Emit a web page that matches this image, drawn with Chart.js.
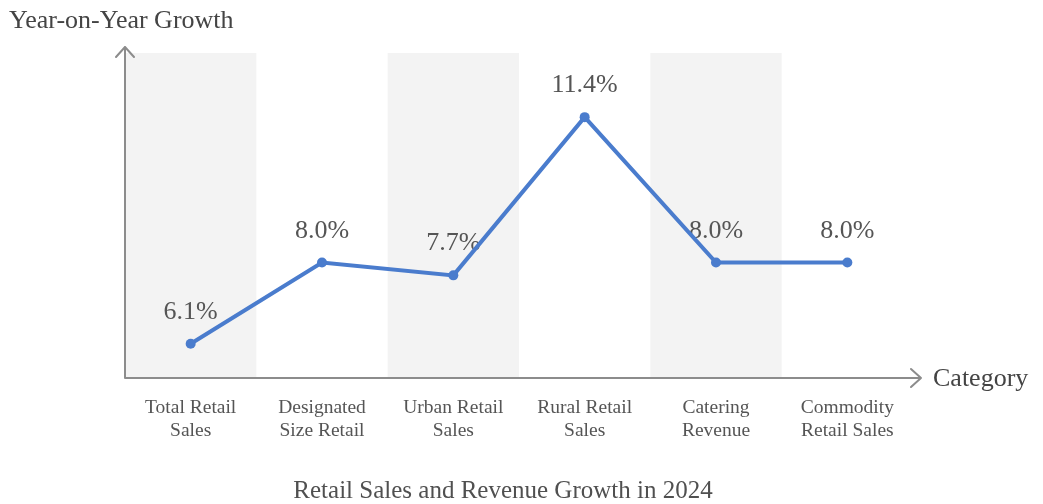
<!DOCTYPE html>
<html>
<head>
<meta charset="utf-8">
<script src="https://cdn.jsdelivr.net/npm/chart.js@4"></script>
<style>
  html, body { margin: 0; padding: 0; background: #ffffff; }
  #wrap { width: 1043px; height: 504px; }
</style>
</head>
<body>
<div id="wrap"><canvas id="c" width="1043" height="504"></canvas></div>
<script>
// Category names (two lines each) and growth rates in percent
const categories = [
  ['Total Retail', 'Sales'],
  ['Designated', 'Size Retail'],
  ['Urban Retail', 'Sales'],
  ['Rural Retail', 'Sales'],
  ['Catering', 'Revenue'],
  ['Commodity', 'Retail Sales']
];
const growth = [6.1, 8.0, 7.7, 11.4, 8.0, 8.0];

const chartTitle = 'Retail Sales and Revenue Growth in 2024';
const yAxisName = 'Year-on-Year Growth';
const xAxisName = 'Category';

const SERIF = '"Liberation Serif", "Times New Roman", serif';
const LINE_BLUE = '#4a7ccd';
const AXIS_GREY = '#8c8c8c';
const TEXT_GREY = '#555555';

// Alternating shaded column behind every other category
const bandPlugin = {
  id: 'bands',
  beforeDatasetsDraw(chart) {
    const { ctx, chartArea, scales } = chart;
    const x = scales.x;
    const step = x.getPixelForValue(1) - x.getPixelForValue(0);
    ctx.save();
    ctx.fillStyle = '#f3f3f3';
    categories.forEach((_, i) => {
      if (i % 2 === 0) {
        const cx = x.getPixelForValue(i);
        ctx.fillRect(cx - step / 2, chartArea.top, step, chartArea.bottom - chartArea.top);
      }
    });
    ctx.restore();
  }
};

// Percent labels above each point, drawn under the line
const valueLabelPlugin = {
  id: 'valueLabels',
  beforeDatasetsDraw(chart) {
    const { ctx } = chart;
    const meta = chart.getDatasetMeta(0);
    ctx.save();
    ctx.font = '26px ' + SERIF;
    ctx.fillStyle = TEXT_GREY;
    ctx.textAlign = 'center';
    ctx.textBaseline = 'alphabetic';
    meta.data.forEach((pt, i) => {
      ctx.fillText(growth[i].toFixed(1) + '%', pt.x, pt.y - 25);
    });
    ctx.restore();
  }
};

// Axis lines with open arrow heads, axis names and the bottom title
const axesPlugin = {
  id: 'arrowAxes',
  afterDatasetsDraw(chart) {
    const { ctx, chartArea } = chart;
    const left = chartArea.left, bottom = chartArea.bottom;
    const yTip = chartArea.top - 6;
    const xTip = chartArea.right + 8;
    ctx.save();
    ctx.strokeStyle = AXIS_GREY;
    ctx.lineWidth = 2;
    ctx.lineCap = 'round';
    ctx.lineJoin = 'round';
    ctx.beginPath();
    ctx.moveTo(left, bottom);
    ctx.lineTo(left, yTip);
    ctx.moveTo(left - 9, yTip + 10);
    ctx.lineTo(left, yTip);
    ctx.lineTo(left + 9, yTip + 10);
    ctx.moveTo(left, bottom);
    ctx.lineTo(xTip, bottom);
    ctx.moveTo(xTip - 10, bottom - 9);
    ctx.lineTo(xTip, bottom);
    ctx.lineTo(xTip - 10, bottom + 9);
    ctx.stroke();

    ctx.fillStyle = '#444444';
    ctx.font = '26px ' + SERIF;
    ctx.textBaseline = 'alphabetic';
    ctx.textAlign = 'left';
    ctx.fillText(yAxisName, 9, 28);
    ctx.fillText(xAxisName, xTip + 12, bottom + 8);

    ctx.font = '25px ' + SERIF;
    ctx.textAlign = 'center';
    ctx.fillStyle = '#505050';
    ctx.fillText(chartTitle, 503, 498);
    ctx.restore();
  }
};

new Chart(document.getElementById('c'), {
  type: 'line',
  data: {
    labels: categories,
    datasets: [{
      data: growth,
      borderColor: LINE_BLUE,
      backgroundColor: LINE_BLUE,
      borderWidth: 4,
      pointRadius: 5,
      pointHoverRadius: 5,
      pointBackgroundColor: LINE_BLUE,
      pointBorderWidth: 0,
      tension: 0,
      fill: false
    }]
  },
  options: {
    responsive: false,
    animation: false,
    devicePixelRatio: 1,
    layout: { padding: { left: 125, right: 130, top: 53, bottom: 0 } },
    plugins: {
      legend: { display: false },
      title: { display: false },
      tooltip: { enabled: false }
    },
    scales: {
      x: {
        type: 'category',
        offset: true,
        grid: { display: false, drawTicks: false },
        border: { display: false },
        ticks: {
          padding: 18,
          color: TEXT_GREY,
          font: { family: SERIF, size: 19.5, lineHeight: 1.18 },
          maxRotation: 0,
          autoSkip: false
        },
        afterFit(scale) { scale.height = 126; }
      },
      y: {
        display: false,
        min: 5.3,
        max: 12.9
      }
    }
  },
  plugins: [bandPlugin, valueLabelPlugin, axesPlugin]
});
</script>
</body>
</html>
